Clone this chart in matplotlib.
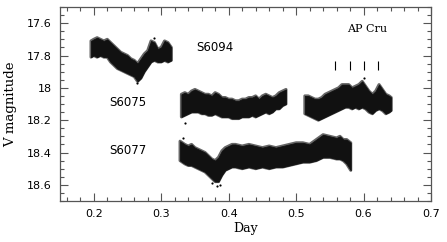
import matplotlib
matplotlib.use('Agg')
import matplotlib.pyplot as plt
from matplotlib.ticker import MultipleLocator, FormatStrFormatter

# light-curve envelopes (Day, upper/lower V magnitude)
s6094_day = [0.196, 0.200, 0.205, 0.210, 0.215, 0.220, 0.225, 0.230, 0.235, 0.240, 0.245, 0.250, 0.255,
             0.260, 0.265, 0.270, 0.275, 0.280, 0.285, 0.290, 0.295, 0.300, 0.305, 0.310, 0.315]
s6094_hi = [17.71, 17.70, 17.69, 17.70, 17.71, 17.70, 17.72, 17.74, 17.76, 17.78, 17.79, 17.80, 17.82,
            17.83, 17.85, 17.82, 17.79, 17.77, 17.71, 17.72, 17.76, 17.75, 17.71, 17.72, 17.75]
s6094_lo = [17.81, 17.80, 17.81, 17.80, 17.81, 17.81, 17.84, 17.86, 17.88, 17.89, 17.90, 17.91, 17.92,
            17.93, 17.96, 17.94, 17.90, 17.87, 17.84, 17.83, 17.84, 17.84, 17.83, 17.84, 17.83]

s6075a_day = [0.330, 0.335, 0.340, 0.345, 0.350, 0.355, 0.360, 0.365, 0.370, 0.375, 0.380, 0.385, 0.390,
              0.395, 0.400, 0.405, 0.410, 0.415, 0.420, 0.425, 0.430, 0.435, 0.440, 0.445, 0.450, 0.455,
              0.460, 0.465, 0.470, 0.475, 0.480, 0.485]
s6075a_hi = [18.04, 18.03, 18.04, 18.02, 18.01, 18.02, 18.03, 18.04, 18.04, 18.05, 18.03, 18.04, 18.06,
             18.06, 18.07, 18.07, 18.08, 18.08, 18.07, 18.07, 18.06, 18.06, 18.05, 18.07, 18.05, 18.04,
             18.05, 18.06, 18.05, 18.03, 18.02, 18.01]
s6075a_lo = [18.18, 18.17, 18.16, 18.15, 18.15, 18.15, 18.16, 18.16, 18.17, 18.17, 18.16, 18.17, 18.18,
             18.18, 18.18, 18.19, 18.19, 18.19, 18.18, 18.18, 18.18, 18.17, 18.18, 18.17, 18.16, 18.15,
             18.16, 18.15, 18.13, 18.13, 18.11, 18.10]

s6075b_day = [0.513, 0.518, 0.523, 0.528, 0.533, 0.538, 0.543, 0.548, 0.553, 0.558, 0.563, 0.568, 0.573,
              0.578, 0.583, 0.588, 0.593, 0.598, 0.603, 0.608, 0.613, 0.618, 0.623, 0.628, 0.633, 0.638, 0.641]
s6075b_hi = [18.05, 18.05, 18.06, 18.07, 18.07, 18.06, 18.04, 18.03, 18.02, 18.01, 18.00, 17.98, 17.98,
             17.98, 18.00, 17.99, 17.98, 17.96, 17.99, 18.02, 18.04, 18.02, 17.98, 18.01, 18.04, 18.05, 18.06]
s6075b_lo = [18.16, 18.17, 18.18, 18.19, 18.20, 18.19, 18.18, 18.17, 18.16, 18.15, 18.14, 18.13, 18.12,
             18.12, 18.13, 18.12, 18.13, 18.12, 18.13, 18.15, 18.16, 18.14, 18.13, 18.14, 18.16, 18.15, 18.14]

s6077_day = [0.328, 0.335, 0.340, 0.345, 0.350, 0.355, 0.360, 0.365, 0.370, 0.375, 0.380, 0.385, 0.390,
             0.395, 0.400, 0.405, 0.410, 0.420, 0.430, 0.440, 0.450, 0.460, 0.470, 0.480, 0.490, 0.500,
             0.510, 0.520, 0.530, 0.540, 0.550, 0.560, 0.565, 0.570, 0.575, 0.581]
s6077_hi = [18.33, 18.35, 18.36, 18.35, 18.37, 18.38, 18.39, 18.40, 18.42, 18.44, 18.45, 18.43, 18.39,
            18.37, 18.36, 18.35, 18.35, 18.36, 18.35, 18.36, 18.37, 18.36, 18.37, 18.36, 18.35, 18.34,
            18.34, 18.35, 18.32, 18.29, 18.30, 18.31, 18.30, 18.32, 18.32, 18.34]
s6077_lo = [18.45, 18.47, 18.48, 18.48, 18.49, 18.50, 18.51, 18.52, 18.54, 18.56, 18.58, 18.58, 18.54,
            18.51, 18.50, 18.49, 18.49, 18.50, 18.49, 18.50, 18.49, 18.50, 18.49, 18.49, 18.48, 18.47,
            18.46, 18.46, 18.45, 18.43, 18.43, 18.44, 18.44, 18.45, 18.47, 18.51]

# isolated points
stray_day = [0.332, 0.336, 0.376, 0.383, 0.387, 0.601, 0.289, 0.264]
stray_mag = [18.31, 18.22, 18.59, 18.61, 18.60, 17.94, 17.69, 17.97]

# eclipse markers for AP Cru
mark_day = [0.558, 0.580, 0.601, 0.622]

star_labels = [("S6094", 0.379, 17.75), ("S6075", 0.251, 18.09), ("S6077", 0.251, 18.39)]

fig = plt.figure(figsize=(4.47, 2.42), dpi=100)
ax = fig.add_axes([60 / 447, 1 - 201 / 242, 371 / 447, 194 / 242])

for d, hi, lo in [(s6094_day, s6094_hi, s6094_lo), (s6075a_day, s6075a_hi, s6075a_lo),
                  (s6075b_day, s6075b_hi, s6075b_lo), (s6077_day, s6077_hi, s6077_lo)]:
    # soft grey halo for the scattered edge points, solid core on top
    ax.fill_between(d, hi, lo, facecolor='none', edgecolor='#666666', linewidth=2.2)
    ax.fill_between(d, hi, lo, facecolor='#111111', edgecolor='#111111', linewidth=0.6)
ax.scatter(stray_day, stray_mag, s=2.5, color='black', linewidths=0)
ax.vlines(mark_day, 17.835, 17.89, color='black', linewidth=0.8)

for name, xx, yy in star_labels:
    ax.text(xx, yy, name, fontsize=8.5, ha='center', va='center', family='DejaVu Sans')
ax.text(0.605, 17.637, "AP Cru", fontsize=8, ha='center', va='center', family='DejaVu Serif')

ax.set_xlim(0.15, 0.7)
ax.set_ylim(18.7, 17.5)
ax.xaxis.set_major_locator(MultipleLocator(0.1))
ax.xaxis.set_minor_locator(MultipleLocator(0.02))
ax.yaxis.set_major_locator(MultipleLocator(0.2))
ax.yaxis.set_minor_locator(MultipleLocator(0.05))
ax.xaxis.set_major_formatter(FormatStrFormatter('%g'))
ax.yaxis.set_major_formatter(FormatStrFormatter('%g'))

ax.tick_params(which='both', direction='in', top=True, right=True, color='#555555', width=0.8)
ax.tick_params(which='major', length=6, labelsize=8, pad=6)
ax.tick_params(which='minor', length=3)
for lab in ax.get_xticklabels() + ax.get_yticklabels():
    lab.set_family('DejaVu Sans')
for sp in ax.spines.values():
    sp.set_color('#555555')
    sp.set_linewidth(0.9)

ax.set_xlabel("Day", fontsize=9, family='DejaVu Serif', labelpad=2)
ax.set_ylabel("V magnitude", fontsize=9.5, family='DejaVu Serif', labelpad=7)

plt.savefig("out.png", dpi=100)
plt.close()
